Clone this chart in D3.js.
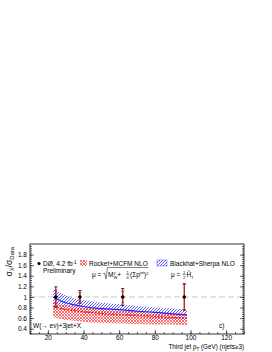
<!DOCTYPE html>
<html>
<head>
<meta charset="utf-8">
<script src="https://cdn.jsdelivr.net/npm/d3@7"></script>
<style>
body { margin: 0; background: #fff; }
text { font-family: "Liberation Sans", Arial, sans-serif; fill: #000; }
</style>
</head>
<body>
<div id="chart"></div>
<script>
// data points (normalised to data)
const ptX = [24.5, 38, 62, 96.5];
const ptY = [1.0, 1.0, 1.0, 1.0];
const errTot = [0.19, 0.12, 0.16, 0.25];
const errStat = [0.13, 0.08, 0.11, 0.24];

// theory bands
const bandX = [23, 25, 30, 35, 40, 50, 60, 70, 80, 90, 98];
const blueMid = [1.00, 0.96, 0.89, 0.85, 0.82, 0.78, 0.76, 0.73, 0.71, 0.68, 0.66];
const blueHi = [1.15, 1.12, 1.03, 0.97, 0.94, 0.89, 0.86, 0.83, 0.80, 0.78, 0.76];
const blueLo = [0.86, 0.83, 0.77, 0.73, 0.70, 0.66, 0.63, 0.61, 0.59, 0.57, 0.56];
const redMid = [0.82, 0.80, 0.76, 0.74, 0.72, 0.69, 0.67, 0.65, 0.63, 0.61, 0.60];
const redHi = [0.90, 0.88, 0.85, 0.83, 0.81, 0.77, 0.75, 0.73, 0.71, 0.70, 0.69];
const redLo = [0.62, 0.60, 0.57, 0.55, 0.53, 0.51, 0.50, 0.49, 0.48, 0.48, 0.47];

const xTicks = [20, 40, 60, 80, 100, 120];
const yTicks = [0.4, 0.6, 0.8, 1, 1.2, 1.4, 1.6, 1.8];

const width = 272;
const height = 352;
const padL = 30, padR = 244, padT = 244, padB = 334;

const svg = d3.select("#chart")
    .append("svg")
    .attr("width", width)
    .attr("height", height);

const defs = svg.append("defs");
const redPat = defs.append("pattern")
    .attr("id", "hatchRed")
    .attr("patternUnits", "userSpaceOnUse")
    .attr("width", 3).attr("height", 3);
redPat.append("path").attr("d", "M0,0L3,3M3,0L0,3")
    .attr("stroke", "#ff3030").attr("stroke-width", 0.7);
const bluePat = defs.append("pattern")
    .attr("id", "hatchBlue")
    .attr("patternUnits", "userSpaceOnUse")
    .attr("width", 3).attr("height", 3);
bluePat.append("path").attr("d", "M-1,1L1,-1M0,3L3,0M2,4L4,2")
    .attr("stroke", "#3030ff").attr("stroke-width", 0.8);

const x = d3.scaleLinear().domain([10, 130]).range([padL, padR]);
const y = d3.scaleLinear().domain([0.3, 2.0]).range([padB, padT]);

const band = d3.range(bandX.length);
const area = (hi, lo) => d3.area()
    .x(i => x(bandX[i]))
    .y0(i => y(lo[i]))
    .y1(i => y(hi[i]))
    .curve(d3.curveMonotoneX);
const line = mid => d3.line()
    .x(i => x(bandX[i]))
    .y(i => y(mid[i]))
    .curve(d3.curveMonotoneX);

// reference line at 1
svg.append("line")
    .attr("x1", padL).attr("x2", padR)
    .attr("y1", y(1)).attr("y2", y(1))
    .attr("stroke", "#bbb")
    .attr("stroke-width", 0.8)
    .attr("stroke-dasharray", "6,3");

svg.append("path")
    .attr("d", area(blueHi, blueLo)(band))
    .attr("fill", "url(#hatchBlue)");
svg.append("path")
    .attr("d", area(redHi, redLo)(band))
    .attr("fill", "url(#hatchRed)");
svg.append("path")
    .attr("d", line(blueMid)(band))
    .attr("fill", "none")
    .attr("stroke", "#2020ff")
    .attr("stroke-width", 1.2);
svg.append("path")
    .attr("d", line(redMid)(band))
    .attr("fill", "none")
    .attr("stroke", "#ff0000")
    .attr("stroke-width", 1.2)
    .attr("stroke-dasharray", "2,1.5");

// error bars
const pts = d3.range(ptX.length);
const drawErr = (err, color, cap) => {
    const g = svg.append("g").attr("stroke", color).attr("stroke-width", 0.8);
    g.selectAll("line.v")
        .data(pts).enter().append("line")
        .attr("x1", i => x(ptX[i])).attr("x2", i => x(ptX[i]))
        .attr("y1", i => y(ptY[i] + err[i])).attr("y2", i => y(ptY[i] - err[i]));
    [1, -1].forEach(s => {
        g.selectAll("line.c" + (s > 0 ? "u" : "d"))
            .data(pts).enter().append("line")
            .attr("x1", i => x(ptX[i]) - cap).attr("x2", i => x(ptX[i]) + cap)
            .attr("y1", i => y(ptY[i] + s * err[i])).attr("y2", i => y(ptY[i] + s * err[i]));
    });
};
drawErr(errTot, "#000", 1.5);
drawErr(errStat, "#ff0000", 1.5);
svg.selectAll("circle.pt")
    .data(pts).enter().append("circle")
    .attr("r", 1.8)
    .attr("cx", i => x(ptX[i]))
    .attr("cy", i => y(ptY[i]))
    .attr("fill", "#000");

// frame
svg.append("rect")
    .attr("x", padL).attr("y", padT)
    .attr("width", padR - padL).attr("height", padB - padT)
    .attr("fill", "none").attr("stroke", "#000").attr("stroke-width", 0.8);

const minorX = d3.range(10, 131, 5);
const minorY = d3.range(0.32, 2.0, 0.04);

const xAxis = svg.append("g").attr("transform", "translate(0," + padB + ")");
xAxis.call(d3.axisBottom(x).tickValues(xTicks).tickSizeInner(-4).tickSizeOuter(0).tickPadding(1));
xAxis.append("g").call(d3.axisBottom(x).tickValues(minorX).tickFormat("").tickSizeInner(-2).tickSizeOuter(0));

const yAxis = svg.append("g").attr("transform", "translate(" + padL + ",0)");
yAxis.call(d3.axisLeft(y).tickValues(yTicks).tickFormat(d3.format("~g")).tickSizeInner(-4).tickSizeOuter(0).tickPadding(3));
yAxis.append("g").call(d3.axisLeft(y).tickValues(minorY).tickFormat("").tickSizeInner(-2).tickSizeOuter(0));

const yAxisR = svg.append("g").attr("transform", "translate(" + padR + ",0)");
yAxisR.call(d3.axisRight(y).tickValues(yTicks).tickFormat("").tickSizeInner(-4).tickSizeOuter(0));
yAxisR.append("g").call(d3.axisRight(y).tickValues(minorY).tickFormat("").tickSizeInner(-2).tickSizeOuter(0));

svg.selectAll(".domain").remove();
svg.selectAll(".tick line").attr("stroke-width", 0.6);
svg.selectAll(".tick text")
    .style("font-family", "Liberation Sans, Arial, sans-serif")
    .style("font-size", "6.5px");

// axis titles
svg.append("text")
    .attr("transform", "translate(12," + (padT + 3) + ") rotate(-90)")
    .attr("text-anchor", "end")
    .style("font-size", "8.5px")
    .call(t => {
        t.append("tspan").text("σ");
        t.append("tspan").attr("dy", 2).style("font-size", "6px").text("X");
        t.append("tspan").attr("dy", -2).text("/σ");
        t.append("tspan").attr("dy", 2).style("font-size", "6px").text("Data");
    });

svg.append("text")
    .attr("x", padR)
    .attr("y", 349)
    .attr("text-anchor", "end")
    .style("font-size", "6.3px")
    .call(t => {
        t.append("tspan").text("Third jet p");
        t.append("tspan").attr("dy", 1.5).style("font-size", "4.5px").text("T");
        t.append("tspan").attr("dy", -1.5).text(" (GeV) (njets≥3)");
    });

// legend
svg.append("circle").attr("cx", 39).attr("cy", 263.5).attr("r", 1.6).attr("fill", "#000");
svg.append("text").attr("x", 43).attr("y", 266).style("font-size", "6.5px")
    .call(t => {
        t.append("tspan").text("DØ, 4.2 fb");
        t.append("tspan").attr("dy", -2.5).style("font-size", "4.5px").text("-1");
    });
svg.append("text").attr("x", 43).attr("y", 273).style("font-size", "6.5px").text("Preliminary");

svg.append("rect").attr("x", 80).attr("y", 260).attr("width", 7).attr("height", 6)
    .attr("fill", "url(#hatchRed)");
svg.append("text").attr("x", 89).attr("y", 266).style("font-size", "6.5px").text("Rocket+MCFM NLO");

svg.append("rect").attr("x", 157).attr("y", 260).attr("width", 10).attr("height", 6)
    .attr("fill", "url(#hatchBlue)").attr("stroke", "#3030ff").attr("stroke-width", 0.4);
svg.append("text").attr("x", 170).attr("y", 266).style("font-size", "6.5px").text("Blackhat+Sherpa NLO");

// scale formulas
const f1 = svg.append("text").attr("x", 92).attr("y", 277).style("font-size", "6.5px");
f1.append("tspan").text("μ =");
const f1b = svg.append("text").attr("x", 108).attr("y", 277).style("font-size", "6.5px");
f1b.append("tspan").text("M");
f1b.append("tspan").attr("dx", 0).attr("dy", -2.5).style("font-size", "4px").text("2");
f1b.append("tspan").attr("dx", -2.2).attr("dy", 4).style("font-size", "4px").text("W");
f1b.append("tspan").attr("dy", -1.5).text("+");
const frac = svg.append("g").style("font-size", "4px");
frac.append("text").attr("x", 126.5).attr("y", 273.5).text("1");
frac.append("text").attr("x", 126.5).attr("y", 279).text("4");
svg.append("line").attr("x1", 126).attr("x2", 129.5).attr("y1", 274.5).attr("y2", 274.5)
    .attr("stroke", "#000").attr("stroke-width", 0.4);
const f1c = svg.append("text").attr("x", 130).attr("y", 277).style("font-size", "6.5px");
f1c.append("tspan").text("(Σp");
f1c.append("tspan").attr("dy", -3).style("font-size", "4px").text("jet");
f1c.append("tspan").attr("dy", 3).text(")");
f1c.append("tspan").attr("dy", -2.5).style("font-size", "4px").text("2");
svg.append("path")
    .attr("d", "M103,274 L104.5,273 L106,279 L107.5,267.5 L148,267.5")
    .attr("fill", "none").attr("stroke", "#000").attr("stroke-width", 0.5);

svg.append("text").attr("x", 171).attr("y", 277).style("font-size", "6.5px").text("μ =");
const frac2 = svg.append("g").style("font-size", "4px");
frac2.append("text").attr("x", 183).attr("y", 273.5).text("1");
frac2.append("text").attr("x", 183).attr("y", 279).text("2");
svg.append("line").attr("x1", 182.5).attr("x2", 186).attr("y1", 274.5).attr("y2", 274.5)
    .attr("stroke", "#000").attr("stroke-width", 0.4);
const f2 = svg.append("text").attr("x", 186.5).attr("y", 277).style("font-size", "6.5px");
f2.append("tspan").text("Ĥ");
f2.append("tspan").attr("dy", -2.5).style("font-size", "4px").text("'");
f2.append("tspan").attr("dx", -1).attr("dy", 4).style("font-size", "4px").text("T");

svg.append("text").attr("x", 33).attr("y", 328).style("font-size", "6.5px").text("W(→ eν)+3jet+X");
svg.append("text").attr("x", 219).attr("y", 328).style("font-size", "6.5px").text("c)");
</script>
</body>
</html>
